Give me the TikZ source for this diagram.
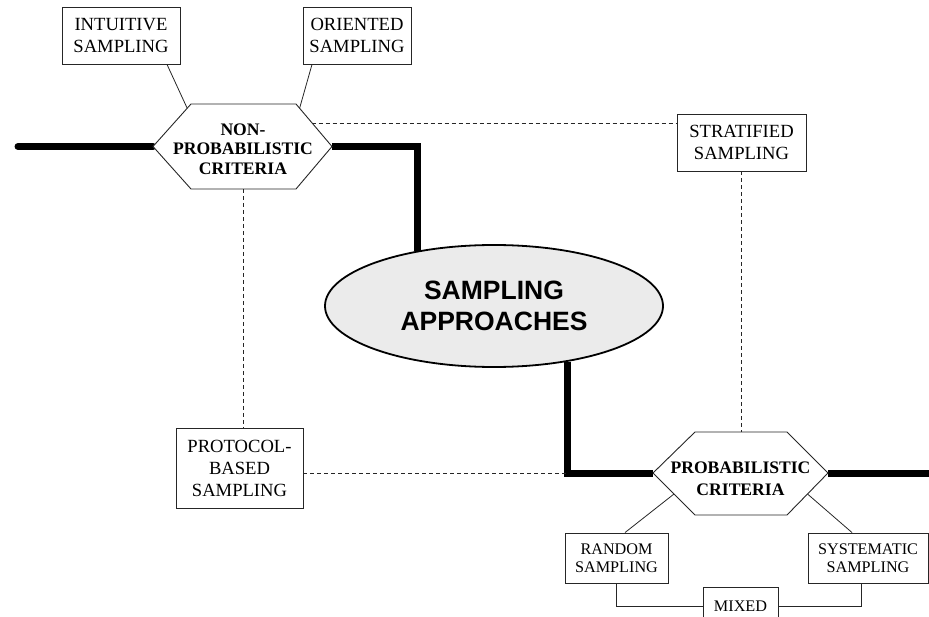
\documentclass[tikz,border=0pt]{standalone}
\usepackage{fontspec}
\setmainfont{Liberation Serif}
\newfontfamily\sansb{Liberation Sans}
\usetikzlibrary{calc,shapes.geometric}
\begin{document}
\begin{tikzpicture}[x=1pt,y=-1pt,
  box/.style={draw=black!85, line width=0.9pt, fill=white, align=center, inner sep=0pt, text=black},
  big/.style={font=\fontsize{18.6}{22}\selectfont},
  small/.style={font=\fontsize{16.2}{18.4}\selectfont},
  hexline/.style={draw=black!85, line width=0.9pt, fill=white},
  hextext/.style={align=center, inner sep=0pt, text=black},
  heavy/.style={line width=7pt, black},
  link/.style={line width=0.8pt, black!85},
  dashlink/.style={line width=0.8pt, dash pattern=on 4pt off 3pt, black!85},
]
\useasboundingbox (0,0) rectangle (929,617);
\clip (0,0) rectangle (929,617);

% boxes
\node[box,big,minimum width=118pt,minimum height=57pt] (intu) at (121,35.5) {INTUITIVE\\SAMPLING};
\node[box,big,minimum width=108pt,minimum height=57pt] (orie) at (357,35.5) {ORIENTED\\SAMPLING};
\node[box,big,minimum width=129pt,minimum height=57pt] (strat) at (741.5,142.5) {STRATIFIED\\SAMPLING};
\node[box,big,minimum width=127pt,minimum height=80pt] (proto) at (239.5,468) {PROTOCOL-\\BASED\\SAMPLING};
\node[box,small,minimum width=103pt,minimum height=50pt] (rand) at (616.5,558) {RANDOM\\SAMPLING};
\node[box,small,minimum width=120pt,minimum height=50pt] (syst) at (868,558) {SYSTEMATIC\\SAMPLING};
\node[box,small,minimum width=75pt,minimum height=38pt] (mixed) at (740.5,606) {MIXED};

% central ellipse
\node[ellipse, draw=black, line width=1.8pt, fill=black!8, minimum width=338pt, minimum height=122pt, inner sep=0pt,
  font=\sansb\fontsize{26.5}{31.5}\selectfont\bfseries, align=center] (sa) at (494,306) {SAMPLING\\APPROACHES};

% hexagon corners
\coordinate (npL) at (153,146.5);
\coordinate (npTL) at (191,104);
\coordinate (npTR) at (296,104);
\coordinate (npR) at (332,146.5);
\coordinate (npBR) at (296,189);
\coordinate (npBL) at (191,189);
\coordinate (phL) at (653,473);
\coordinate (phTL) at (695,432);
\coordinate (phTR) at (787,432);
\coordinate (phR) at (828,473);
\coordinate (phBR) at (787,515);
\coordinate (phBL) at (695,515);
\coordinate (leftend) at (18,146.5);
\coordinate (rightend) at (935,473);
\coordinate (npA) at (311.5,123);
\coordinate (npB) at (243,189);

% heavy path
\draw[heavy, line cap=round] (leftend) -- (npL);
\draw[heavy] (npR) -| (sa.144.4);
\draw[heavy] (sa.-37) |- (phL);
\draw[heavy] (phR) -- (rightend);

% dashed links
\draw[dashlink] (npA) -- (npA -| strat.west);
\draw[dashlink] (strat.south) -- (strat.south |- phTL);
\draw[dashlink] (npB) -- (npB |- proto.north);
\draw[dashlink] (proto.east |- phL) -- (sa.-37 |- phL);

% thin links
\draw[link] ([xshift=46pt]intu.south) -- ($(npL)!0.9!(npTL)$);
\draw[link] ([xshift=-45pt]orie.south) -- ($(npR)!0.9!(npTR)$);
\draw[link] ([xshift=8.5pt]rand.north) -- ($(phL)!0.5!(phBL)$);
\draw[link] ([xshift=-16pt]syst.north) -- ($(phR)!0.5!(phBR)$);
\draw[link] (rand.south) |- (mixed.west);
\draw[link] ([xshift=-7pt]syst.south) |- (mixed.east);

% hexagons
\draw[hexline] (npL) -- (npTL) -- (npTR) -- (npR) -- (npBR) -- (npBL) -- cycle;
\node[hextext, font=\fontsize{17.6}{19.5}\selectfont\bfseries] (np) at (243,149) {NON-\\PROBABILISTIC\\CRITERIA};
\draw[hexline] (phL) -- (phTL) -- (phTR) -- (phR) -- (phBR) -- (phBL) -- cycle;
\node[hextext, font=\fontsize{17.6}{22}\selectfont\bfseries] (ph) at (740.5,479) {PROBABILISTIC\\CRITERIA};
\end{tikzpicture}
\end{document}
